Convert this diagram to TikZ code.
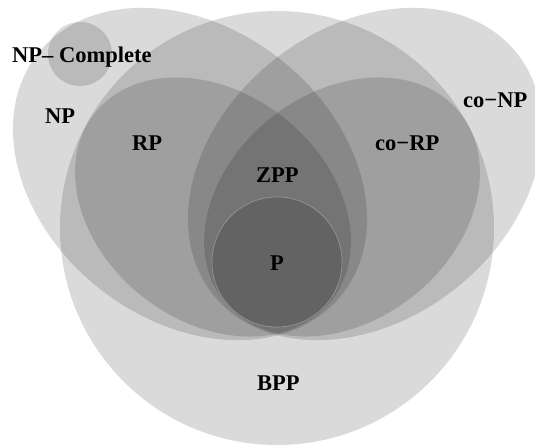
\documentclass[tikz,border=0pt]{standalone}
\usepackage{fontspec}
\setmainfont{Liberation Serif}
\begin{document}
\begin{tikzpicture}[x=1pt,y=-1pt,
  layer/.style={fill=black, fill opacity=0.145},
  lbl/.style={anchor=base west, inner sep=0pt, font=\fontsize{22.5}{27}\selectfont\bfseries, text=black}]
\useasboundingbox (0,0) rectangle (535,447);
% BPP
\fill[layer] (277,228) circle [radius=217pt];
% NP and co-NP
\fill[layer, rotate around={-38.4:(190,174)}] (190,174) ellipse [x radius=194pt, y radius=146pt];
\fill[layer, rotate around={38.4:(365,174)}] (365,174) ellipse [x radius=194pt, y radius=146pt];
% RP and co-RP
\fill[layer, rotate around={-38.4:(213,207)}] (213,207) ellipse [x radius=151pt, y radius=114pt];
\fill[layer, rotate around={38.4:(342,207)}] (342,207) ellipse [x radius=151pt, y radius=114pt];
% P
\fill[layer, draw=white, draw opacity=0.3, line width=0.6pt] (277,262) circle [radius=65pt];
% NP-Complete
\fill[layer] (80,54) circle [radius=32pt];
% labels
\node[lbl] (npc) at (12,62) {NP– Complete};
\node[lbl] (np) at (45,123) {NP};
\node[lbl] (rp) at (132,150) {RP};
\node[lbl] (corp) at (375,150) {co−RP};
\node[lbl] (conp) at (463,107) {co−NP};
\node[lbl] (zpp) at (256,182) {ZPP};
\node[lbl] (p) at (270,270) {P};
\node[lbl] (bpp) at (257,390) {BPP};
\end{tikzpicture}
\end{document}
